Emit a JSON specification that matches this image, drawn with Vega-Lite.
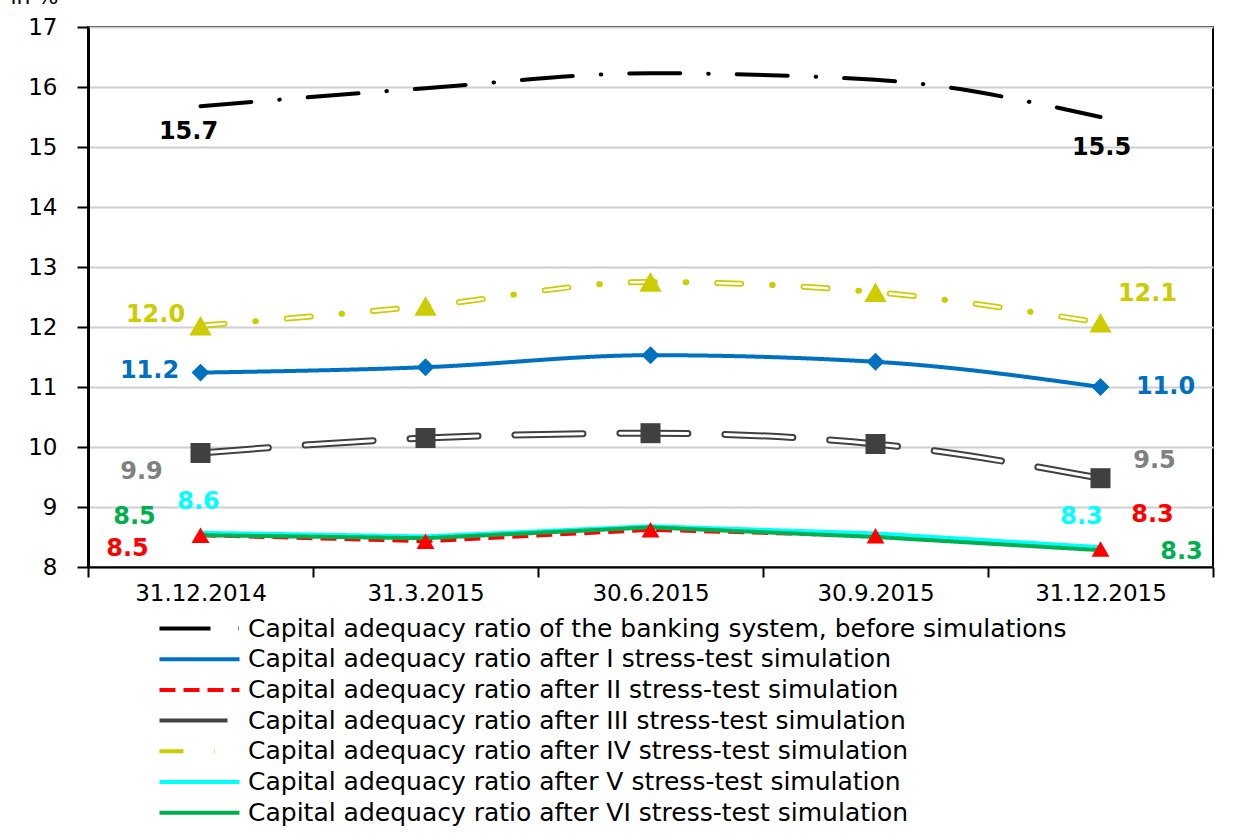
{
  "$schema": "https://vega.github.io/schema/vega-lite/v6.json",
  "width": 1125,
  "height": 540,
  "autosize": {"type": "none"},
  "padding": {"left": 88, "top": 27, "right": 26, "bottom": 267},
  "background": "white",
  "data": {
    "values": [
      {"date": "31.12.2014", "key": "B", "series": "Capital adequacy ratio of the banking system, before simulations", "value": 15.68},
      {"date": "31.3.2015", "key": "B", "series": "Capital adequacy ratio of the banking system, before simulations", "value": 15.98},
      {"date": "30.6.2015", "key": "B", "series": "Capital adequacy ratio of the banking system, before simulations", "value": 16.23},
      {"date": "30.9.2015", "key": "B", "series": "Capital adequacy ratio of the banking system, before simulations", "value": 16.12},
      {"date": "31.12.2015", "key": "B", "series": "Capital adequacy ratio of the banking system, before simulations", "value": 15.5},
      {"date": "31.12.2014", "key": "I", "series": "Capital adequacy ratio after I stress-test simulation", "value": 11.24},
      {"date": "31.3.2015", "key": "I", "series": "Capital adequacy ratio after I stress-test simulation", "value": 11.33},
      {"date": "30.6.2015", "key": "I", "series": "Capital adequacy ratio after I stress-test simulation", "value": 11.53},
      {"date": "30.9.2015", "key": "I", "series": "Capital adequacy ratio after I stress-test simulation", "value": 11.42},
      {"date": "31.12.2015", "key": "I", "series": "Capital adequacy ratio after I stress-test simulation", "value": 11.0},
      {"date": "31.12.2014", "key": "II", "series": "Capital adequacy ratio after II stress-test simulation", "value": 8.53},
      {"date": "31.3.2015", "key": "II", "series": "Capital adequacy ratio after II stress-test simulation", "value": 8.43},
      {"date": "30.6.2015", "key": "II", "series": "Capital adequacy ratio after II stress-test simulation", "value": 8.62},
      {"date": "30.9.2015", "key": "II", "series": "Capital adequacy ratio after II stress-test simulation", "value": 8.52},
      {"date": "31.12.2015", "key": "II", "series": "Capital adequacy ratio after II stress-test simulation", "value": 8.3},
      {"date": "31.12.2014", "key": "III", "series": "Capital adequacy ratio after III stress-test simulation", "value": 9.9},
      {"date": "31.3.2015", "key": "III", "series": "Capital adequacy ratio after III stress-test simulation", "value": 10.15},
      {"date": "30.6.2015", "key": "III", "series": "Capital adequacy ratio after III stress-test simulation", "value": 10.23},
      {"date": "30.9.2015", "key": "III", "series": "Capital adequacy ratio after III stress-test simulation", "value": 10.05},
      {"date": "31.12.2015", "key": "III", "series": "Capital adequacy ratio after III stress-test simulation", "value": 9.48},
      {"date": "31.12.2014", "key": "IV", "series": "Capital adequacy ratio after IV stress-test simulation", "value": 12.02},
      {"date": "31.3.2015", "key": "IV", "series": "Capital adequacy ratio after IV stress-test simulation", "value": 12.35},
      {"date": "30.6.2015", "key": "IV", "series": "Capital adequacy ratio after IV stress-test simulation", "value": 12.75},
      {"date": "30.9.2015", "key": "IV", "series": "Capital adequacy ratio after IV stress-test simulation", "value": 12.58},
      {"date": "31.12.2015", "key": "IV", "series": "Capital adequacy ratio after IV stress-test simulation", "value": 12.07},
      {"date": "31.12.2014", "key": "V", "series": "Capital adequacy ratio after V stress-test simulation", "value": 8.57},
      {"date": "31.3.2015", "key": "V", "series": "Capital adequacy ratio after V stress-test simulation", "value": 8.51},
      {"date": "30.6.2015", "key": "V", "series": "Capital adequacy ratio after V stress-test simulation", "value": 8.68},
      {"date": "30.9.2015", "key": "V", "series": "Capital adequacy ratio after V stress-test simulation", "value": 8.56},
      {"date": "31.12.2015", "key": "V", "series": "Capital adequacy ratio after V stress-test simulation", "value": 8.33},
      {"date": "31.12.2014", "key": "VI", "series": "Capital adequacy ratio after VI stress-test simulation", "value": 8.53},
      {"date": "31.3.2015", "key": "VI", "series": "Capital adequacy ratio after VI stress-test simulation", "value": 8.48},
      {"date": "30.6.2015", "key": "VI", "series": "Capital adequacy ratio after VI stress-test simulation", "value": 8.66},
      {"date": "30.9.2015", "key": "VI", "series": "Capital adequacy ratio after VI stress-test simulation", "value": 8.5},
      {"date": "31.12.2015", "key": "VI", "series": "Capital adequacy ratio after VI stress-test simulation", "value": 8.28}
    ]
  },
  "encoding": {
    "x": {
      "field": "date", "type": "ordinal",
      "sort": ["31.12.2014", "31.3.2015", "30.6.2015", "30.9.2015", "31.12.2015"],
      "scale": {"type": "band", "paddingInner": 0, "paddingOuter": 0},
      "axis": {"title": null, "labelAngle": 0, "tickBand": "extent", "tickSize": 10, "labelPadding": 5, "domainWidth": 2, "grid": false}
    },
    "y": {
      "field": "value", "type": "quantitative",
      "scale": {"domain": [8, 17], "nice": false, "zero": false},
      "axis": {
        "values": [8, 9, 10, 11, 12, 13, 14, 15, 16, 17],
        "grid": true, "gridColor": "#cfcfcf", "gridWidth": 2,
        "tickSize": 11, "labelPadding": 20, "domainWidth": 3,
        "title": "in %", "titleAngle": 0, "titleX": -78, "titleY": -24,
        "titleAlign": "left", "titleBaseline": "alphabetic",
        "titleFontSize": 22, "titleFontWeight": "normal", "titleColor": "#000"
      }
    }
  },
  "layer": [
    {
      "transform": [{"filter": {"field": "key", "oneOf": ["B", "I", "III", "IV"]}}],
      "mark": {"type": "line", "interpolate": "monotone", "strokeWidth": 4, "strokeCap": "round"},
      "encoding": {
        "color": {
          "field": "series", "type": "nominal",
          "scale": {
            "domain": [
              "Capital adequacy ratio of the banking system, before simulations",
              "Capital adequacy ratio after I stress-test simulation",
              "Capital adequacy ratio after II stress-test simulation",
              "Capital adequacy ratio after III stress-test simulation",
              "Capital adequacy ratio after IV stress-test simulation",
              "Capital adequacy ratio after V stress-test simulation",
              "Capital adequacy ratio after VI stress-test simulation"
            ],
            "range": ["#000000", "#0070C0", "#FF0000", "#404040", "#CCCC00", "#00FFFF", "#00B050"]
          },
          "legend": {"title": null}
        },
        "strokeDash": {
          "field": "series", "type": "nominal",
          "scale": {
            "domain": [
              "Capital adequacy ratio of the banking system, before simulations",
              "Capital adequacy ratio after I stress-test simulation",
              "Capital adequacy ratio after II stress-test simulation",
              "Capital adequacy ratio after III stress-test simulation",
              "Capital adequacy ratio after IV stress-test simulation",
              "Capital adequacy ratio after V stress-test simulation",
              "Capital adequacy ratio after VI stress-test simulation"
            ],
            "range": [[51, 28, 0.5, 28], [1, 0], [16, 8], [68, 37], [24, 31, 0.5, 31], [1, 0], [1, 0]]
          },
          "legend": {"title": null}
        }
      }
    },
    {
      "transform": [{"filter": {"field": "key", "oneOf": ["III"]}}],
      "mark": {"type": "line", "interpolate": "monotone", "strokeWidth": 7, "strokeCap": "round", "color": "#404040", "strokeDash": [68, 37]},
      "encoding": {}
    },
    {
      "transform": [{"filter": {"field": "key", "oneOf": ["III"]}}],
      "mark": {"type": "line", "interpolate": "monotone", "strokeWidth": 3, "strokeCap": "round", "color": "#ffffff", "strokeDash": [68, 37]},
      "encoding": {}
    },
    {
      "transform": [{"filter": {"field": "key", "oneOf": ["IV"]}}],
      "mark": {"type": "line", "interpolate": "monotone", "strokeWidth": 6, "strokeCap": "round", "color": "#CCCC00", "strokeDash": [24, 31, 0.5, 31]},
      "encoding": {}
    },
    {
      "transform": [{"filter": {"field": "key", "oneOf": ["IV"]}}],
      "mark": {"type": "line", "interpolate": "monotone", "strokeWidth": 2.5, "strokeCap": "round", "color": "#ffffff", "strokeDash": [24, 62.5]},
      "encoding": {}
    },
    {
      "transform": [{"filter": {"field": "key", "oneOf": ["II", "V", "VI"]}}],
      "mark": {"type": "line", "interpolate": "linear", "strokeWidth": 4, "strokeCap": "butt"},
      "encoding": {
        "color": {"field": "series", "type": "nominal", "legend": {"title": null}},
        "strokeDash": {"field": "series", "type": "nominal", "legend": {"title": null}}
      }
    },
    {
      "transform": [{"filter": {"field": "key", "equal": "I"}}],
      "mark": {"type": "point", "shape": "diamond", "filled": true, "size": 320, "color": "#0070C0", "opacity": 1},
      "encoding": {}
    },
    {
      "transform": [{"filter": {"field": "key", "equal": "II"}}],
      "mark": {"type": "point", "shape": "triangle-up", "filled": true, "size": 320, "color": "#FF0000", "opacity": 1},
      "encoding": {}
    },
    {
      "transform": [{"filter": {"field": "key", "equal": "III"}}],
      "mark": {"type": "point", "shape": "square", "filled": true, "size": 400, "color": "#404040", "opacity": 1},
      "encoding": {}
    },
    {
      "transform": [{"filter": {"field": "key", "equal": "IV"}}],
      "mark": {"type": "point", "shape": "triangle-up", "filled": true, "size": 500, "color": "#CCCC00", "opacity": 1},
      "encoding": {}
    },
    {
      "transform": [{"filter": "datum.key === 'B' && datum.date === '31.12.2014'"}],
      "mark": {"type": "text", "fontWeight": "bold", "fontSize": 24, "color": "#000000", "dx": -12, "dy": 26},
      "encoding": {"text": {"field": "value", "type": "quantitative", "format": ".1f"}}
    },
    {
      "transform": [{"filter": "datum.key === 'B' && datum.date === '31.12.2015'"}],
      "mark": {"type": "text", "fontWeight": "bold", "fontSize": 24, "color": "#000000", "dx": 1, "dy": 31},
      "encoding": {"text": {"field": "value", "type": "quantitative", "format": ".1f"}}
    },
    {
      "transform": [{"filter": "datum.key === 'IV' && datum.date === '31.12.2014'"}],
      "mark": {"type": "text", "fontWeight": "bold", "fontSize": 24, "color": "#CCCC00", "dx": -45, "dy": -11},
      "encoding": {"text": {"field": "value", "type": "quantitative", "format": ".1f"}}
    },
    {
      "transform": [{"filter": "datum.key === 'IV' && datum.date === '31.12.2015'"}],
      "mark": {"type": "text", "fontWeight": "bold", "fontSize": 24, "color": "#CCCC00", "dx": 47, "dy": -29},
      "encoding": {"text": {"field": "value", "type": "quantitative", "format": ".1f"}}
    },
    {
      "transform": [{"filter": "datum.key === 'I' && datum.date === '31.12.2014'"}],
      "mark": {"type": "text", "fontWeight": "bold", "fontSize": 24, "color": "#0070C0", "dx": -51, "dy": -2},
      "encoding": {"text": {"field": "value", "type": "quantitative", "format": ".1f"}}
    },
    {
      "transform": [{"filter": "datum.key === 'I' && datum.date === '31.12.2015'"}],
      "mark": {"type": "text", "fontWeight": "bold", "fontSize": 24, "color": "#0070C0", "dx": 65, "dy": 0},
      "encoding": {"text": {"field": "value", "type": "quantitative", "format": ".1f"}}
    },
    {
      "transform": [{"filter": "datum.key === 'III' && datum.date === '31.12.2014'"}],
      "mark": {"type": "text", "fontWeight": "bold", "fontSize": 24, "color": "#808080", "dx": -59, "dy": 19},
      "encoding": {"text": {"field": "value", "type": "quantitative", "format": ".1f"}}
    },
    {
      "transform": [{"filter": "datum.key === 'III' && datum.date === '31.12.2015'"}],
      "mark": {"type": "text", "fontWeight": "bold", "fontSize": 24, "color": "#808080", "dx": 54, "dy": -17},
      "encoding": {"text": {"field": "value", "type": "quantitative", "format": ".1f"}}
    },
    {
      "transform": [{"filter": "datum.key === 'V' && datum.date === '31.12.2014'"}],
      "mark": {"type": "text", "fontWeight": "bold", "fontSize": 24, "color": "#00FFFF", "dx": -2, "dy": -31},
      "encoding": {"text": {"field": "value", "type": "quantitative", "format": ".1f"}}
    },
    {
      "transform": [{"filter": "datum.key === 'V' && datum.date === '31.12.2015'"}],
      "mark": {"type": "text", "fontWeight": "bold", "fontSize": 24, "color": "#00FFFF", "dx": -19, "dy": -30},
      "encoding": {"text": {"field": "value", "type": "quantitative", "format": ".1f"}}
    },
    {
      "transform": [{"filter": "datum.key === 'VI' && datum.date === '31.12.2014'"}],
      "mark": {"type": "text", "fontWeight": "bold", "fontSize": 24, "color": "#00B050", "dx": -66, "dy": -18},
      "encoding": {"text": {"field": "value", "type": "quantitative", "format": ".1f"}}
    },
    {
      "transform": [{"filter": "datum.key === 'VI' && datum.date === '31.12.2015'"}],
      "mark": {"type": "text", "fontWeight": "bold", "fontSize": 24, "color": "#00B050", "dx": 81, "dy": 2},
      "encoding": {"text": {"field": "value", "type": "quantitative", "format": ".1f"}}
    },
    {
      "transform": [{"filter": "datum.key === 'II' && datum.date === '31.12.2014'"}],
      "mark": {"type": "text", "fontWeight": "bold", "fontSize": 24, "color": "#FF0000", "dx": -73, "dy": 14},
      "encoding": {"text": {"field": "value", "type": "quantitative", "format": ".1f"}}
    },
    {
      "transform": [{"filter": "datum.key === 'II' && datum.date === '31.12.2015'"}],
      "mark": {"type": "text", "fontWeight": "bold", "fontSize": 24, "color": "#FF0000", "dx": 52, "dy": -34},
      "encoding": {"text": {"field": "value", "type": "quantitative", "format": ".1f"}}
    }
  ],
  "config": {
    "font": "DejaVu Sans",
    "view": {"stroke": "#000000", "strokeWidth": 2},
    "axis": {"labelFont": "DejaVu Sans", "labelFontSize": 23, "labelColor": "#000000", "tickColor": "#000000", "tickWidth": 2, "domainColor": "#000000"},
    "text": {"font": "DejaVu Sans"},
    "legend": {
      "orient": "none", "legendX": 99, "legendY": 589, "direction": "vertical", "columns": 1,
      "symbolType": "M-4,0H4", "symbolSize": 400, "symbolStrokeWidth": 4,
      "labelFont": "DejaVu Sans", "labelFontSize": 25, "labelColor": "#000000", "labelOffset": 36,
      "labelLimit": 1200, "rowPadding": 4.7
    }
  }
}
